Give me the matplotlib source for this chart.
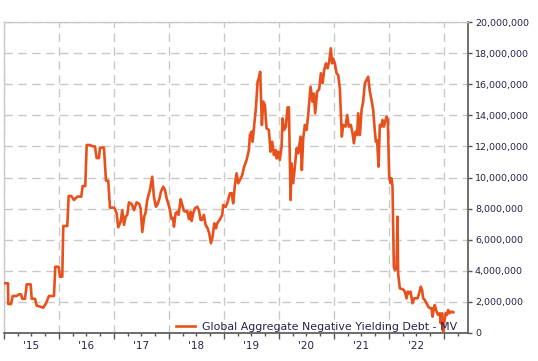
import matplotlib
matplotlib.use("Agg")
import matplotlib.pyplot as plt
from matplotlib.ticker import FuncFormatter, FixedLocator, FixedFormatter

# Decimal years and market value (USD millions)
years = [
    2015.005, 2015.073, 2015.078, 2015.127, 2015.158, 2015.231, 2015.273, 2015.309, 2015.333, 2015.382,
    2015.413, 2015.485, 2015.504, 2015.564, 2015.595, 2015.655, 2015.715, 2015.764, 2015.818, 2015.909,
    2015.933, 2015.995, 2016.018, 2016.060, 2016.078, 2016.151, 2016.176, 2016.224, 2016.273, 2016.333,
    2016.405, 2016.431, 2016.478, 2016.504, 2016.564, 2016.618, 2016.655, 2016.685, 2016.727, 2016.745,
    2016.818, 2016.855, 2016.896, 2016.927, 2017.005, 2017.049, 2017.078, 2017.122, 2017.151, 2017.182,
    2017.213, 2017.242, 2017.273, 2017.322, 2017.364, 2017.413, 2017.460, 2017.485, 2017.515, 2017.551,
    2017.576, 2017.605, 2017.655, 2017.696, 2017.727, 2017.764, 2017.795, 2017.824, 2017.855, 2017.896,
    2017.927, 2017.958, 2018.005, 2018.049, 2018.073, 2018.091, 2018.122, 2018.151, 2018.176, 2018.213,
    2018.242, 2018.273, 2018.309, 2018.333, 2018.364, 2018.395, 2018.413, 2018.442, 2018.473, 2018.515,
    2018.545, 2018.576, 2018.600, 2018.636, 2018.667, 2018.704, 2018.733, 2018.764, 2018.795, 2018.824,
    2018.855, 2018.878, 2018.927, 2018.969, 2018.987, 2019.031, 2019.060, 2019.109, 2019.140, 2019.169,
    2019.200, 2019.231, 2019.260, 2019.304, 2019.333, 2019.369, 2019.413, 2019.455, 2019.473, 2019.504,
    2019.522, 2019.551, 2019.582, 2019.613, 2019.636, 2019.660, 2019.691, 2019.715, 2019.745, 2019.776,
    2019.818, 2019.849, 2019.878, 2019.909, 2019.940, 2019.958, 2019.987, 2020.018, 2020.049, 2020.067,
    2020.091, 2020.127, 2020.158, 2020.182, 2020.200, 2020.213, 2020.231, 2020.260, 2020.291, 2020.322,
    2020.351, 2020.395, 2020.418, 2020.442, 2020.473, 2020.504, 2020.533, 2020.576, 2020.613, 2020.636,
    2020.660, 2020.696, 2020.733, 2020.764, 2020.795, 2020.824, 2020.855, 2020.885, 2020.915, 2020.945,
    2020.969, 2020.987, 2021.018, 2021.049, 2021.078, 2021.109, 2021.127, 2021.145, 2021.169, 2021.213,
    2021.242, 2021.273, 2021.309, 2021.340, 2021.364, 2021.395, 2021.424, 2021.442, 2021.473, 2021.504,
    2021.533, 2021.564, 2021.595, 2021.624, 2021.655, 2021.685, 2021.715, 2021.745, 2021.764, 2021.787,
    2021.813, 2021.836, 2021.860, 2021.885, 2021.909, 2021.933, 2021.958, 2021.982, 2022.000, 2022.009,
    2022.031, 2022.049, 2022.067, 2022.091, 2022.109, 2022.140, 2022.158, 2022.169, 2022.200, 2022.260,
    2022.291, 2022.322, 2022.345, 2022.369, 2022.395, 2022.431, 2022.460, 2022.491, 2022.522, 2022.551,
    2022.582, 2022.605, 2022.624, 2022.655, 2022.685, 2022.715, 2022.745, 2022.776, 2022.795, 2022.818,
    2022.836, 2022.867, 2022.896, 2022.927, 2022.945, 2022.969, 2022.987, 2023.013, 2023.036, 2023.060,
    2023.078, 2023.109, 2023.140, 2023.173,
]
values_mn = [
    3.20, 3.20, 1.86, 1.86, 2.38, 2.38, 2.49, 2.49, 2.20, 2.20,
    3.13, 3.13, 2.20, 2.20, 1.76, 1.70, 1.63, 1.91, 2.38, 2.38,
    4.26, 4.26, 3.62, 3.62, 6.88, 6.88, 8.81, 8.81, 8.55, 8.77,
    8.77, 9.45, 9.45, 12.09, 12.09, 12.00, 12.00, 11.25, 11.25, 11.92,
    11.92, 9.80, 9.80, 8.06, 8.06, 7.70, 6.80, 7.16, 7.90, 6.95,
    7.48, 7.60, 8.40, 8.30, 7.90, 8.40, 8.30, 8.00, 6.50, 7.50,
    7.74, 8.55, 9.20, 10.05, 8.77, 8.12, 8.30, 8.60, 9.09, 9.41,
    9.20, 8.66, 8.12, 7.33, 7.40, 6.84, 7.70, 7.80, 7.60, 8.60,
    8.25, 7.85, 7.80, 7.85, 7.33, 7.80, 7.20, 7.70, 8.02, 8.12,
    7.90, 7.27, 7.27, 7.60, 6.95, 6.73, 6.40, 5.77, 6.20, 7.05,
    6.73, 7.05, 7.30, 7.60, 8.23, 8.10, 8.34, 8.98, 9.00, 8.34,
    9.52, 10.27, 9.63, 9.95, 10.15, 10.70, 11.13, 11.77, 12.73, 12.95,
    12.30, 13.38, 14.45, 16.16, 16.40, 16.80, 13.38, 14.88, 14.67, 13.16,
    13.05, 11.66, 12.30, 11.45, 11.77, 11.23, 11.66, 11.13, 12.00, 13.80,
    13.05, 13.27, 14.51, 14.51, 10.91, 8.55, 10.90, 9.63, 10.70, 11.88,
    11.56, 12.63, 10.48, 12.50, 13.38, 13.06, 14.02, 15.84, 14.88, 15.40,
    14.13, 15.52, 15.67, 16.70, 16.06, 16.90, 17.34, 17.02, 17.45, 18.31,
    17.34, 17.66, 17.34, 16.70, 16.60, 15.73, 14.13, 12.63, 13.38, 13.27,
    14.02, 13.27, 13.38, 12.84, 12.20, 12.95, 12.73, 14.13, 12.73, 14.34,
    14.88, 16.06, 16.27, 16.48, 15.52, 14.98, 14.34, 13.00, 12.30, 12.40,
    10.70, 13.38, 13.27, 13.70, 13.27, 13.60, 13.91, 13.70, 10.90, 9.95,
    9.63, 9.95, 9.41, 4.26, 4.05, 4.15, 7.48, 3.84, 2.87, 2.80,
    2.66, 2.23, 2.66, 2.55, 2.66, 1.91, 2.23, 2.23, 2.23, 2.55,
    2.98, 2.77, 2.23, 2.12, 1.91, 1.70, 1.60, 1.60, 1.05, 1.60,
    1.80, 1.38, 1.17, 1.27, 0.62, 1.27, 0.08, 0.83, 1.27, 1.17,
    1.48, 1.27, 1.38, 1.33,
]
series_label = "Global Aggregate Negative Yielding Debt - MV"
year_labels = ["'15", "'16", "'17", "'18", "'19", "'20", "'21", "'22"]
year_starts = [2015, 2016, 2017, 2018, 2019, 2020, 2021, 2022, 2023]
y_ticks = [0, 2e6, 4e6, 6e6, 8e6, 10e6, 12e6, 14e6, 16e6, 18e6, 20e6]

W, H = 538, 361
fig = plt.figure(figsize=(W / 100, H / 100), dpi=100)
ax = fig.add_axes([4 / W, (H - 333) / H, (468 - 4) / W, (333 - 22) / H])

line_color = "#E8501C"
text_color = "#23234a"

ax.plot(years, [v * 1e6 for v in values_mn], color=line_color, lw=1.9,
        solid_joinstyle="round", label=series_label, zorder=3)

ax.set_xlim(2015.0, 2023.44)
ax.set_ylim(0, 20e6)

# y axis on right
ax.yaxis.tick_right()
ax.set_yticks(y_ticks)
ax.yaxis.set_major_formatter(FuncFormatter(lambda v, p: f"{int(v):,}"))
ax.tick_params(axis="y", which="major", length=3, width=1, color="#555555",
               labelsize=6.8, labelcolor=text_color, pad=2)

# x axis: major at year starts (gridlines), minor at quarters with labels at mid-year
ax.xaxis.set_major_locator(FixedLocator(year_starts))
ax.set_xticklabels([""] * len(year_starts))
quarters = [y + q for y in range(2015, 2024) for q in (0.25, 0.5, 0.75)]
quarters = [q for q in quarters if q < 2023.44]
ax.xaxis.set_minor_locator(FixedLocator(quarters))
minor_labels = []
for q in quarters:
    if abs(q - int(q) - 0.5) < 1e-6 and int(q) - 2015 < len(year_labels):
        minor_labels.append(year_labels[int(q) - 2015])
    else:
        minor_labels.append("")
ax.xaxis.set_minor_formatter(FixedFormatter(minor_labels))
ax.tick_params(axis="x", which="major", length=4, width=1, color="#555555")
ax.tick_params(axis="x", which="minor", length=2.5, width=1, color="#555555",
               labelsize=7.5, labelcolor=text_color, pad=3)

# grid
ax.grid(True, which="major", axis="both", color="#c8c8c8", lw=1.0,
        linestyle=(0, (6, 4)))
ax.set_axisbelow(True)

for s in ["top", "left"]:
    ax.spines[s].set_color("#c8c8c8")
    ax.spines[s].set_linewidth(1.0)
for s in ["right", "bottom"]:
    ax.spines[s].set_color("#555555")
    ax.spines[s].set_linewidth(1.2)

leg = ax.legend(loc="lower left", bbox_to_anchor=(0.371, 0.004), frameon=False,
                fontsize=7.9, handlelength=1.75, handletextpad=0.65,
                borderaxespad=0, borderpad=0)
for t in leg.get_texts():
    t.set_color(text_color)

fig.savefig("out.png", dpi=100, facecolor="white")
